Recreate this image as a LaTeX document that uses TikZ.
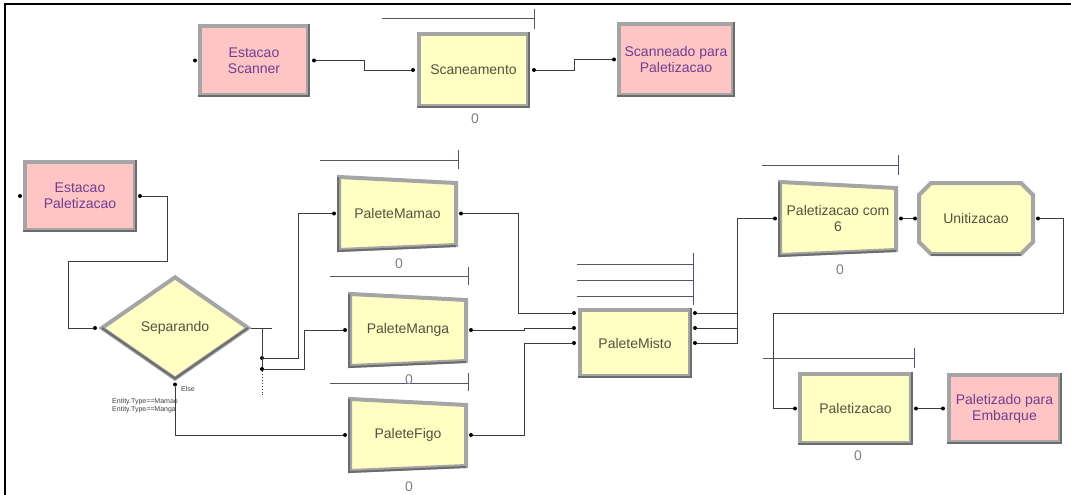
\documentclass[tikz,border=0pt]{standalone}
\usepackage{fontspec}
\setmainfont{Liberation Sans}
\usetikzlibrary{shapes.geometric,backgrounds}
\definecolor{pinkfill}{RGB}{255,196,196}
\definecolor{yelfill}{RGB}{255,255,196}
\definecolor{framegray}{RGB}{165,165,165}
\definecolor{shadegray}{RGB}{108,108,108}
\definecolor{pinktext}{RGB}{112,62,142}
\definecolor{yeltext}{RGB}{82,82,62}
\definecolor{queueblue}{RGB}{84,84,112}
\definecolor{wiregray}{RGB}{60,60,60}
\newcommand{\modfont}{\fontsize{14}{16}\selectfont}
\tikzset{
  modbox/.style={draw=framegray, line width=4pt, inner sep=0pt, align=center, font=\modfont},
  pinkbox/.style={modbox, fill=pinkfill, text=pinktext},
  yelbox/.style={modbox, fill=yelfill, text=yeltext},
  batchbox/.style={inner sep=0pt, outer sep=0pt, align=center, text=yeltext, font=\modfont},
  batchshape/.style={draw=framegray, fill=yelfill, line width=4pt},
  decide/.style={diamond, draw=framegray, fill=yelfill, line width=4pt, inner sep=0pt, text=yeltext, font=\modfont},
  edge/.style={draw=shadegray, line width=2pt},
  port/.style={circle, fill=black, inner sep=0pt, minimum size=4pt},
  wire/.style={draw=wiregray, line width=0.9pt},
  queue/.style={draw=queueblue, line width=1pt},
  count/.style={text=gray, font=\modfont},
  cond/.style={text=darkgray, font=\fontsize{7}{8}\selectfont, inner sep=0pt, anchor=west}
}
\newcommand{\shadeedge}[1]{\draw[edge] ([yshift=1pt]#1.south west) -- ([xshift=-1pt,yshift=1pt]#1.south east) -- ([xshift=-1pt]#1.north east);}
\newcommand{\batchframe}[1]{%
  \begin{scope}[on background layer]
  \draw[batchshape] (#1.north west) -- ([yshift=-6pt]#1.north east) -- ([yshift=5pt]#1.south east) -- (#1.south west) -- cycle;
  \draw[edge] ([xshift=-1pt]#1.north west) -- ([xshift=-1pt,yshift=-1pt]#1.south west) -- ([yshift=4pt]#1.south east);
  \end{scope}}
\newcommand{\octaframe}[1]{%
  \begin{scope}[on background layer]
  \draw[batchshape] ([xshift=12pt]#1.north west) -- ([xshift=-12pt]#1.north east) -- ([yshift=-12pt]#1.north east) -- ([yshift=12pt]#1.south east) -- ([xshift=-12pt]#1.south east) -- ([xshift=12pt]#1.south west) -- ([yshift=12pt]#1.south west) -- ([yshift=-12pt]#1.north west) -- cycle;
  \draw[edge] ([xshift=12pt,yshift=-1pt]#1.south west) -- ([xshift=-12pt,yshift=-1pt]#1.south east);
  \end{scope}}
\begin{document}
\begin{tikzpicture}[x=1pt,y=-1pt]
    \useasboundingbox (0,0) rectangle (1071,495);
    \draw[line width=2.5pt] (5,495) -- (5,4) -- (1071,4);

    \node[pinkbox, minimum width=108pt, minimum height=69pt] (estScan) at (254,60.5) {Estacao\\Scanner};
    \node[yelbox, minimum width=109pt, minimum height=72pt] (scan) at (473.5,70) {Scaneamento};
    \node[pinkbox, minimum width=114pt, minimum height=71pt] (sppal) at (676,59.5) {Scanneado para\\Paletizacao};
    \node[pinkbox, minimum width=110pt, minimum height=68pt] (estPal) at (80,196) {Estacao\\Paletizacao};
    \node[decide, minimum width=148pt, minimum height=103pt] (sep) at (175,328) {Separando};
    \node[batchbox, minimum width=117pt, minimum height=73pt] (mamao) at (397.5,213.5) {PaleteMamao};
    \node[batchbox, minimum width=116pt, minimum height=72pt] (manga) at (408,330) {PaleteManga};
    \node[batchbox, minimum width=116pt, minimum height=72pt] (figo) at (408,435) {PaleteFigo};
    \node[yelbox, minimum width=110pt, minimum height=66pt] (misto) at (635,343) {PaleteMisto};
    \node[batchbox, minimum width=116pt, minimum height=73pt] (pal6) at (838,218.5) {Paletizacao com\\6};
    \node[batchbox, minimum width=114pt, minimum height=71pt] (unit) at (976,218.5) {Unitizacao};
    \node[yelbox, minimum width=111pt, minimum height=69pt] (palt) at (855.5,408.5) {Paletizacao};
    \node[pinkbox, minimum width=111pt, minimum height=67pt] (embq) at (1004.5,408.5) {Paletizado para\\Embarque};

    \shadeedge{estScan}
    \shadeedge{scan}
    \shadeedge{sppal}
    \shadeedge{estPal}
    \shadeedge{misto}
    \shadeedge{palt}
    \shadeedge{embq}
    \draw[edge] ([xshift=-3pt]sep.east) -- ([yshift=3pt]sep.south) -- ([xshift=3pt]sep.west);
    \batchframe{mamao}
    \batchframe{manga}
    \batchframe{figo}
    \batchframe{pal6}
    \octaframe{unit}

    \node[port] (estScanIn) at ([xshift=-3pt]estScan.west) {};
    \node[port] (estScanOut) at ([xshift=4pt]estScan.east) {};
    \node[port] (scanIn) at ([xshift=-4pt]scan.west) {};
    \node[port] (scanOut) at ([xshift=4pt]scan.east) {};
    \node[port] (sppalIn) at ([xshift=-3pt]sppal.west) {};
    \node[port] (estPalIn) at ([xshift=-3pt]estPal.west) {};
    \node[port] (estPalOut) at ([xshift=3pt]estPal.east) {};
    \node[port] (sepIn) at ([xshift=-4pt]sep.west) {};
    \node[port] (sepOut) at ([yshift=-3pt]sep.south) {};
    \node[port] (sepA) at ([xshift=11pt,yshift=-30pt]sep.east) {};
    \node[port] (sepB) at ([xshift=11pt,yshift=-41pt]sep.east) {};
    \node[port] (mamaoIn) at ([xshift=-5pt]mamao.west) {};
    \node[port] (mamaoOut) at ([xshift=5pt]mamao.east) {};
    \node[port] (mangaIn) at ([xshift=-5pt]manga.west) {};
    \node[port] (mangaOut) at ([xshift=5pt]manga.east) {};
    \node[port] (figoIn) at ([xshift=-5pt]figo.west) {};
    \node[port] (figoOut) at ([xshift=5pt]figo.east) {};
    \node[port] (mistoInA) at ([xshift=-4pt,yshift=30pt]misto.west) {};
    \node[port] (mistoInB) at ([xshift=-4pt,yshift=15pt]misto.west) {};
    \node[port] (mistoInC) at ([xshift=-4pt]misto.west) {};
    \node[port] (mistoOutA) at ([xshift=3pt,yshift=30pt]misto.east) {};
    \node[port] (mistoOutB) at ([xshift=3pt,yshift=15pt]misto.east) {};
    \node[port] (mistoOutC) at ([xshift=3pt]misto.east) {};
    \node[port] (pal6In) at ([xshift=-5pt]pal6.west) {};
    \node[port] (pal6Out) at ([xshift=5pt]pal6.east) {};
    \node[port] (unitIn) at ([xshift=-4pt]unit.west) {};
    \node[port] (unitOut) at ([xshift=5pt]unit.east) {};
    \node[port] (paltIn) at ([xshift=-3pt]palt.west) {};
    \node[port] (paltOut) at ([xshift=3pt]palt.east) {};
    \node[port] (embqIn) at ([xshift=-4pt]embq.west) {};

    \draw[wire] (estScanOut) -- ++(50,0) |- (scanIn);
    \draw[wire] (scanOut) -- ++(40,0) |- (sppalIn);
    \draw[wire] (estPalOut) -- ++(27,0) -- ++(0,65) -- ++(-99,0) |- (sepIn);
    \draw[wire] (sep.east) -- ++(21,0);
    \draw[wire] ([xshift=11pt]sep.east) -- (sepB);
    \draw[wire, dotted] (sepB) -- ++(0,28);
    \draw[wire] (sepA) -- ++(36,0) |- (mamaoIn);
    \draw[wire] (sepB) -- ++(42,0) |- (mangaIn);
    \draw[wire] (sepOut) |- (figoIn);
    \draw[wire] (mamaoOut) -- ++(57,0) |- (mistoInA);
    \draw[wire] (mangaOut) -- ++(53,0) |- (mistoInB);
    \draw[wire] (figoOut) -- ++(53,0) |- (mistoInC);
    \draw[wire] (mistoOutA) -- ++(42,0);
    \draw[wire] (mistoOutB) -- ++(42,0);
    \draw[wire] (mistoOutC) -- ++(42,0) |- (pal6In);
    \draw[wire] (pal6Out) -- (unitIn);
    \draw[wire] (unitOut) -- ++(25,0) |- (773,313) |- (paltIn);
    \draw[wire] (paltOut) -- (embqIn);

    \draw[queue] (382,19) -- (534,19) (534,9) -- (534,29);
    \draw[queue] (320,160) -- (458,160) (458,150) -- (458,169);
    \draw[queue] (330,276) -- (468,276) (468,267) -- (468,285);
    \draw[queue] (330,383) -- (468,383) (468,373) -- (468,391);
    \draw[queue] (577,264) -- (693,264) (577,280) -- (693,280) (577,296) -- (693,296) (693,253) -- (693,305);
    \draw[queue] (762,165) -- (898,165) (898,155) -- (898,175);
    \draw[queue] (763,358) -- (914,358) (914,348) -- (914,368);

    \node[count] (scanCnt) at (475,119) {0};
    \node[count] (mamaoCnt) at (399,264) {0};
    \node[count] (mangaCnt) at (409,380) {0};
    \node[count] (figoCnt) at (409,487) {0};
    \node[count] (pal6Cnt) at (840,270) {0};
    \node[count] (paltCnt) at (858,456) {0};

    \node[cond] (elseLbl) at (181,389) {Else};
    \node[cond] (condA) at (112,402) {Entity.Type==Mamao};
    \node[cond] (condB) at (112,410) {Entity.Type==Manga};
\end{tikzpicture}
\end{document}
